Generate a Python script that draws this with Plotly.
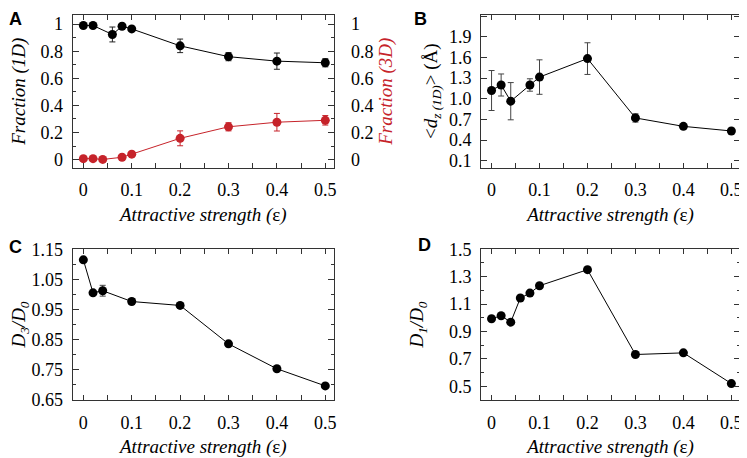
import plotly.graph_objects as go

# ---- Data ----
# Panel A
a_x_1d = [0, 0.02, 0.06, 0.08, 0.1, 0.2, 0.3, 0.4, 0.5]
a_y_1d = [0.99, 0.99, 0.924, 0.985, 0.965, 0.84, 0.76, 0.727, 0.715]
a_e_1d = [0.0, 0.0, 0.055, 0.0, 0.012, 0.05, 0.03, 0.06, 0.03]
a_x_3d = [0, 0.02, 0.04, 0.08, 0.1, 0.2, 0.3, 0.4, 0.5]
a_y_3d = [0.007, 0.007, 0.001, 0.017, 0.04, 0.157, 0.242, 0.276, 0.29]
a_e_3d = [0.0, 0.0, 0.0, 0.0, 0.01, 0.055, 0.03, 0.065, 0.035]
# Panel B
b_x = [0, 0.02, 0.04, 0.08, 0.1, 0.2, 0.3, 0.4, 0.5]
b_y = [1.12, 1.2, 0.965, 1.2, 1.315, 1.583, 0.722, 0.6, 0.533]
b_e = [0.29, 0.16, 0.27, 0.09, 0.25, 0.23, 0.06, 0.02, 0.02]
# Panel C
c_x = [0, 0.02, 0.04, 0.1, 0.2, 0.3, 0.4, 0.5]
c_y = [1.117, 1.007, 1.014, 0.978, 0.965, 0.837, 0.754, 0.697]
c_e = [0.008, 0.005, 0.018, 0.01, 0.004, 0.004, 0.004, 0.003]
# Panel D
d_x = [0, 0.02, 0.04, 0.06, 0.08, 0.1, 0.2, 0.3, 0.4, 0.5]
d_y = [0.993, 1.015, 0.968, 1.144, 1.18, 1.234, 1.351, 0.732, 0.744, 0.52]

RED = "#c6232a"
BLACK = "#000000"
SERIF = "Liberation Serif"
XT = "<i>Attractive strength (</i>ε<i>)</i>"


def trace(x, y, e, color, xa, ya, ecolor=None):
    kw = {}
    if e is not None:
        kw["error_y"] = dict(type="data", array=e, visible=True, color=ecolor or color,
                             thickness=1, width=3)
    return go.Scatter(x=x, y=y, mode="lines+markers", xaxis=xa, yaxis=ya,
                      line=dict(color=color, width=1),
                      marker=dict(color=color, size=9), showlegend=False, **kw)


fig = go.Figure()
fig.add_trace(trace(a_x_1d, a_y_1d, a_e_1d, BLACK, "x", "y", "#222"))
fig.add_trace(trace(a_x_3d, a_y_3d, a_e_3d, RED, "x", "y5"))
fig.add_trace(trace(b_x, b_y, b_e, BLACK, "x2", "y2", "#444"))
fig.add_trace(trace(c_x, c_y, c_e, BLACK, "x3", "y3", "#444"))
fig.add_trace(trace(d_x, d_y, None, BLACK, "x4", "y4"))

# page body has an 8px margin, so the figure is placed at (8, 8)
OFF = 8
W, H = 739, 450
def fx(px):
    return (px - OFF) / W
def fy(py):
    return 1 - (py - OFF) / H

tickfont = dict(family=SERIF, size=18, color="black")
titlefont = dict(family=SERIF, size=19, color="black")

def xaxis(dom, anchor):
    return dict(domain=dom, anchor=anchor, range=[-0.022, 0.518], tick0=0, dtick=0.1,
                ticks="inside", ticklen=5, tickcolor="#333", showline=True, linecolor="#333",
                linewidth=1, mirror="ticks", showgrid=False, zeroline=False,
                tickfont=tickfont, ticklabelstandoff=6, automargin=False,
                minor=dict(dtick=0.05, ticks="inside", ticklen=5, tickcolor="#333", showgrid=False),
                title=dict(text=XT, font=titlefont, standoff=8))

def yaxis(dom, anchor, rng, dtick, minor, fmt, title, mirror="ticks", standoff=8):
    d = dict(domain=dom, anchor=anchor, range=rng, dtick=dtick, tick0=0,
             ticks="inside", ticklen=6, tickcolor="#333", showline=True, linecolor="#333",
             linewidth=1, mirror=mirror, showgrid=False, zeroline=False, automargin=False,
             tickfont=tickfont, tickformat=fmt, ticklabelstandoff=5,
             title=dict(text=title, font=titlefont, standoff=standoff))
    if minor:
        d["minor"] = dict(dtick=minor, ticks="inside", ticklen=3, tickcolor="#333", showgrid=False)
    return d

xA = [fx(72.7), fx(334)]
xB = [fx(481), fx(740)]
yTop = [fy(167.7), fy(14.7)]
yBot = [fy(400), fy(249)]

fig.update_layout(
    width=W, height=H, margin=dict(l=0, r=0, t=0, b=0, autoexpand=False),
    plot_bgcolor="white", paper_bgcolor="white",
    xaxis=xaxis(xA, "y"),
    yaxis=yaxis(yTop, "x", [-0.06, 1.07], 0.2, 0.1, "", "<i>Fraction (1D)</i>", mirror=True,
                standoff=9),
    yaxis5=dict(overlaying="y", side="right", anchor="x", range=[-0.06, 1.07], dtick=0.2, tick0=0,
                ticks="inside", ticklen=6, tickcolor="#333", showgrid=False, zeroline=False,
                showline=False, tickfont=tickfont, ticklabelstandoff=16, automargin=False,
                minor=dict(dtick=0.1, ticks="inside", ticklen=3, tickcolor="#333", showgrid=False),
                title=dict(text="<i>Fraction (3D)</i>", font=dict(family=SERIF, size=19, color=RED),
                           standoff=6)),
    xaxis2=xaxis(xB, "y2"),
    yaxis2=yaxis(yTop, "x2", [0.0, 2.22], 0.3, None, ".1f",
                 "&lt;<i>d<sub>z (1D)</sub></i>&gt; (Å)", standoff=6),
    xaxis3=xaxis(xA, "y3"),
    yaxis3=yaxis(yBot, "x3", [0.65, 1.153], 0.1, 0.05, ".2f", "<i>D<sub>3</sub>/D<sub>0</sub></i>",
                 standoff=13),
    xaxis4=xaxis(xB, "y4"),
    yaxis4=yaxis(yBot, "x4", [0.4, 1.502], 0.2, 0.1, ".1f", "<i>D<sub>1</sub>/D<sub>0</sub></i>",
                 standoff=20),
)
fig.update_layout(yaxis2_tick0=0.1, yaxis3_tick0=0.65, yaxis4_tick0=0.5)

# panel letters: (text, left px, top px) on the page
labels = [("A", 8, 8), ("B", 413, 8), ("C", 8, 236), ("D", 417, 234)]
for t, x, y in labels:
    fig.add_annotation(text=f"<b>{t}</b>", x=fx(x), y=fy(y), xref="paper", yref="paper",
                       xanchor="left", yanchor="top", showarrow=False, borderpad=0,
                       font=dict(family="Liberation Sans", size=18, color="black"))

fig.write_html("out.html")
